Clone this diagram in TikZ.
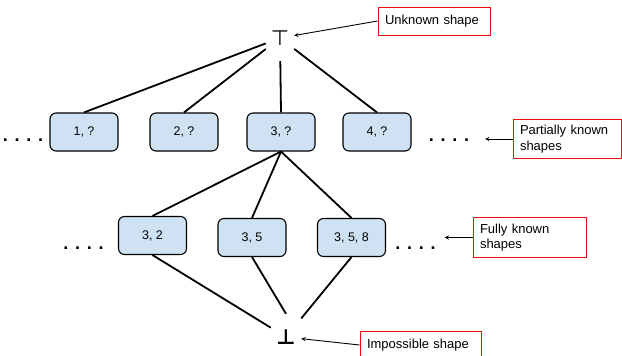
\documentclass[tikz,border=0pt]{standalone}
\usepackage{fontspec}
\setmainfont{Liberation Sans}
\newfontfamily\symfont{DejaVu Sans}
\usetikzlibrary{shapes,arrows}
\definecolor{shapeblue}{HTML}{CFE2F3}
\definecolor{notered}{HTML}{F01010}

\begin{document}
\begin{tikzpicture}[
    x=1pt, y=-1pt,
    elem/.style={rectangle, draw, line width=1.1pt, rounded corners=6pt, minimum width=68pt, minimum height=38pt, fill=shapeblue, font=\fontsize{12.5}{15}\selectfont},
    note/.style={rectangle, draw=notered, line width=1pt, fill=white, align=left, inner xsep=7pt, inner ysep=6pt, minimum height=28pt, font=\fontsize{13}{15.5}\selectfont},
    bound/.style={minimum width=28pt, minimum height=46pt, font=\symfont\fontsize{21}{24}\selectfont},
    dots/.style={anchor=base, inner sep=0pt, font=\bfseries\fontsize{18}{20}\selectfont},
    link/.style={line width=1.8pt},
    pointer/.style={->, >=stealth, line width=0.9pt}
]
\useasboundingbox (0,0) rectangle (622,356);
\clip (0,0) rectangle (622,356);

% Top and bottom of the lattice
\node[bound] (top) at (280,38) {⊤};
\node[bound, minimum width=30pt, font=\symfont\bfseries\fontsize{21}{24}\selectfont] (bottom) at (286,337) {⊥};

% Partially known shapes
\node[elem] (p1) at (84,132) {1, ?};
\node[elem] (p2) at (184,132) {2, ?};
\node[elem] (p3) at (281,132) {3, ?};
\node[elem] (p4) at (377,132) {4, ?};
\node[dots] (pdotsl) at (23,141.5) {. . . .};
\node[dots] (pdotsr) at (449,141.5) {. . . .};

% Fully known shapes
\node[elem] (f1) at (152.5,235.5) {3, 2};
\node[elem] (f2) at (252,237.5) {3, 5};
\node[elem] (f3) at (351.5,237.5) {3, 5, 8};
\node[dots] (fdotsl) at (83.5,249.5) {. . . .};
\node[dots] (fdotsr) at (415.5,249.5) {. . . .};

% Notes
\node[note, text width=98pt] (unknown) at (434,21) {Unknown shape};
\node[note, text width=94pt] (partial) at (567,139) {Partially known\\shapes};
\node[note, text width=99pt] (fully) at (529.5,237.5) {Fully known\\shapes};
\node[note, text width=107pt] (impossible) at (420.5,345) {Impossible shape};

% Lattice order
\foreach \p in {p1,p2,p3,p4}
    \draw[link] (top) -- (\p.north);
\foreach \f in {f1,f2,f3}
    \draw[link] (p3.south) -- (\f.north);
\draw[link] (f1.south) -- (bottom);
\draw[link] (f2.south) -- (bottom.north);
\draw[link] (f3.south) -- (bottom);

% Note arrows
\draw[pointer] (unknown.west) -- (top);
\draw[pointer, shorten >=16pt] (partial.west) -- (pdotsr.east |- partial.west);
\draw[pointer, shorten >=9pt] (fully.west) -- (fdotsr.east |- fully.west);
\draw[pointer] (impossible.west) -- (bottom);

\end{tikzpicture}
\end{document}
